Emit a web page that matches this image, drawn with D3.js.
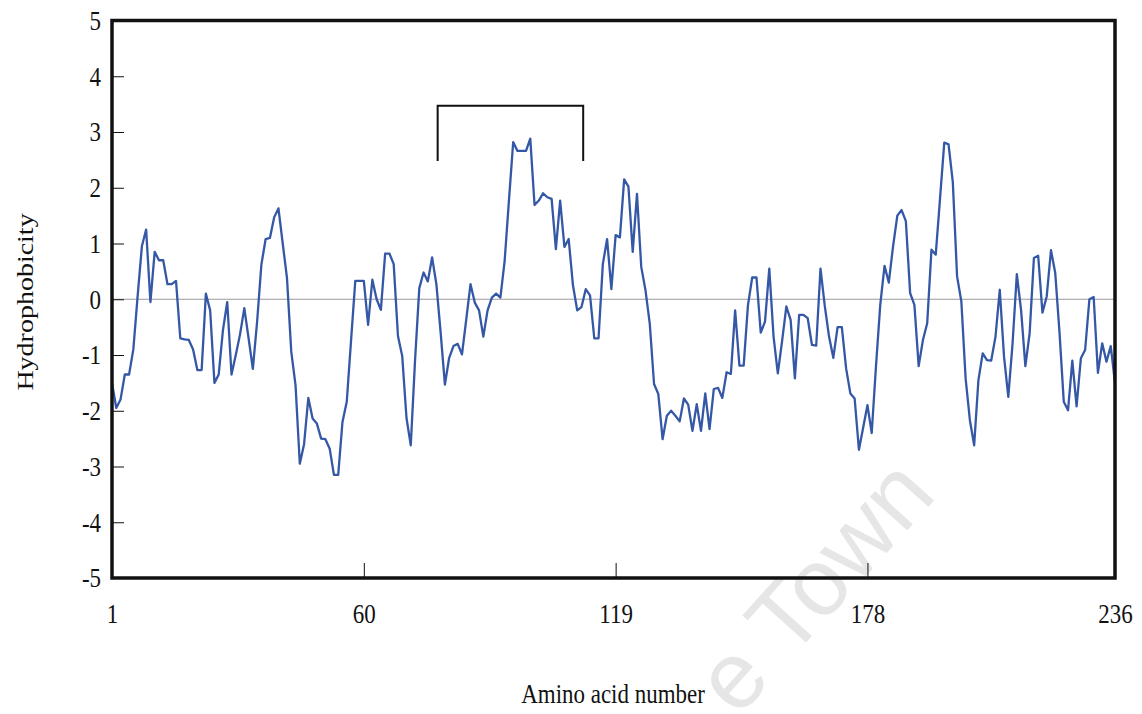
<!DOCTYPE html>
<html>
<head>
<meta charset="utf-8">
<script src="https://cdn.jsdelivr.net/npm/d3@7"></script>
<style>
  body { margin: 0; background: #fff; }
  text { font-family: "Liberation Serif", "Times New Roman", serif; }
</style>
</head>
<body>
<div id="chart"></div>
<script>
// hydrophobicity per residue (1..236)
const hydrophobicity = [
  -1.5, -1.95, -1.8, -1.35, -1.35, -0.9, 0.05, 0.95, 1.25, -0.05,
  0.85, 0.7, 0.7, 0.27, 0.27, 0.33, -0.7, -0.72, -0.73, -0.9,
  -1.27, -1.27, 0.1, -0.2, -1.5, -1.35, -0.55, -0.05, -1.35, -1.0,
  -0.63, -0.16, -0.7, -1.25, -0.4, 0.62, 1.08, 1.1, 1.47, 1.63,
  1.0, 0.38, -0.94, -1.54, -2.95, -2.6, -1.77, -2.14, -2.23, -2.5,
  -2.51, -2.68, -3.15, -3.15, -2.2, -1.84, -0.75, 0.33, 0.33, 0.33,
  -0.46, 0.35, 0.0, -0.19, 0.82, 0.82, 0.63, -0.66, -1.02, -2.13,
  -2.62, -1.1, 0.2, 0.48, 0.32, 0.75, 0.27, -0.6, -1.53, -1.05,
  -0.84, -0.8, -0.99, -0.36, 0.27, -0.06, -0.2, -0.67, -0.2, 0.03,
  0.1, 0.03, 0.69, 1.77, 2.82, 2.66, 2.66, 2.66, 2.88, 1.69,
  1.77, 1.9, 1.83, 1.8, 0.9, 1.77, 0.94, 1.08, 0.25, -0.2,
  -0.14, 0.18, 0.07, -0.7, -0.7, 0.63, 1.08, 0.18, 1.15, 1.11,
  2.15, 2.02, 0.85, 1.89, 0.58, 0.16, -0.44, -1.52, -1.7, -2.51,
  -2.09, -2.0, -2.09, -2.19, -1.78, -1.89, -2.36, -1.88, -2.36, -1.69,
  -2.33, -1.61, -1.59, -1.77, -1.31, -1.34, -0.2, -1.19, -1.19, -0.11,
  0.39, 0.39, -0.6, -0.4, 0.55, -0.67, -1.33, -0.75, -0.13, -0.37,
  -1.42, -0.28, -0.28, -0.34, -0.82, -0.83, 0.55, -0.12, -0.67, -1.05,
  -0.5, -0.5, -1.24, -1.69, -1.78, -2.7, -2.3, -1.9, -2.4, -1.2,
  -0.1, 0.6, 0.3, 0.95, 1.5, 1.6, 1.4, 0.11, -0.1, -1.2,
  -0.73, -0.43, 0.89, 0.8, 1.8, 2.81, 2.78, 2.1, 0.41, -0.04,
  -1.42, -2.17, -2.62, -1.45, -0.97, -1.09, -1.1, -0.67, 0.17, -1.03,
  -1.75, -0.79, 0.45, -0.2, -1.2, -0.61, 0.74, 0.78, -0.24, 0.05,
  0.88, 0.47, -0.6, -1.84, -1.99, -1.1, -1.92, -1.06, -0.91, 0.0,
  0.04, -1.32, -0.79, -1.12, -0.84, -1.5,
];
const firstResidue = 1;
const lastResidue = 236;
const xTickValues = [1, 60, 119, 178, 236];
const yTickValues = [-5, -4, -3, -2, -1, 0, 1, 2, 3, 4, 5];
// bracket over the marked segment (residue range, y of legs and top)
const bracketResidues = [77.3, 111.4];
const bracketLevels = [2.48, 3.47];

const W = 1142, H = 714;
const plot = { left: 112, right: 1115, top: 20.5, bottom: 578 };
const squeeze = 0.82; // the scanned type is narrower than it is tall

const svg = d3.select("#chart").append("svg")
  .attr("width", W).attr("height", H);

// faint watermark behind the chart (only this tail of it is on the page)
svg.append("text")
  .attr("transform", "translate(938,496) rotate(-48)")
  .attr("text-anchor", "end")
  .style("font-family", "'Liberation Sans', Arial, sans-serif")
  .style("font-size", "95px")
  .attr("fill", "#e6e6e6")
  .text("e Town");

const x = d3.scaleLinear().domain([firstResidue, lastResidue]).range([plot.left, plot.right]);
const y = d3.scaleLinear().domain([-5, 5]).range([plot.bottom, plot.top]);

// zero line
svg.append("line")
  .attr("x1", x(firstResidue)).attr("x2", x(lastResidue))
  .attr("y1", y(0)).attr("y2", y(0))
  .attr("stroke", "#9a9a9a").attr("stroke-width", 1.2);

// the profile
const line = d3.line()
  .x((d, i) => x(firstResidue + i))
  .y((d) => y(d));

svg.append("path")
  .datum(hydrophobicity)
  .attr("d", line)
  .attr("fill", "none")
  .attr("stroke", "#3558a6")
  .attr("stroke-width", 2.3)
  .attr("stroke-linejoin", "round");

// axes, ticks pointing inward
const yAxis = svg.append("g")
  .attr("transform", `translate(${plot.left},0)`)
  .call(d3.axisLeft(y).tickValues(yTickValues).tickSize(-12).tickPadding(13.5).tickFormat((d) => String(d)));

const xAxis = svg.append("g")
  .attr("transform", `translate(0,${plot.bottom})`)
  .call(d3.axisBottom(x).tickValues(xTickValues).tickSize(-15).tickPadding(25));

[yAxis, xAxis].forEach((ax) => {
  ax.select(".domain").remove();
  ax.selectAll(".tick line").attr("stroke", "#111").attr("stroke-width", 1);
  ax.selectAll(".tick text")
    .attr("fill", "#111")
    .style("font-size", "28px")
    .attr("transform", `scale(${squeeze},1)`);
});
yAxis.selectAll(".tick text").attr("x", -11 / squeeze);
xAxis.selectAll(".tick text").attr("x", 0);

// frame
svg.append("rect")
  .attr("x", plot.left).attr("y", plot.top)
  .attr("width", plot.right - plot.left)
  .attr("height", plot.bottom - plot.top)
  .attr("fill", "none")
  .attr("stroke", "#111")
  .attr("stroke-width", 3.5);

// bracket
svg.append("path")
  .attr("d", d3.line()([
    [x(bracketResidues[0]), y(bracketLevels[0])],
    [x(bracketResidues[0]), y(bracketLevels[1])],
    [x(bracketResidues[1]), y(bracketLevels[1])],
    [x(bracketResidues[1]), y(bracketLevels[0])],
  ]))
  .attr("fill", "none")
  .attr("stroke", "#111")
  .attr("stroke-width", 2);

// axis titles
svg.append("text")
  .attr("transform", `translate(613,703) scale(${squeeze},1)`)
  .attr("text-anchor", "middle")
  .style("font-size", "28px")
  .attr("fill", "#111")
  .text("Amino acid number");

svg.append("text")
  .attr("transform", `translate(33,302) scale(${squeeze},1) rotate(-90)`)
  .attr("text-anchor", "middle")
  .style("font-size", "28px")
  .attr("fill", "#111")
  .text("Hydrophobicity");
</script>
</body>
</html>
